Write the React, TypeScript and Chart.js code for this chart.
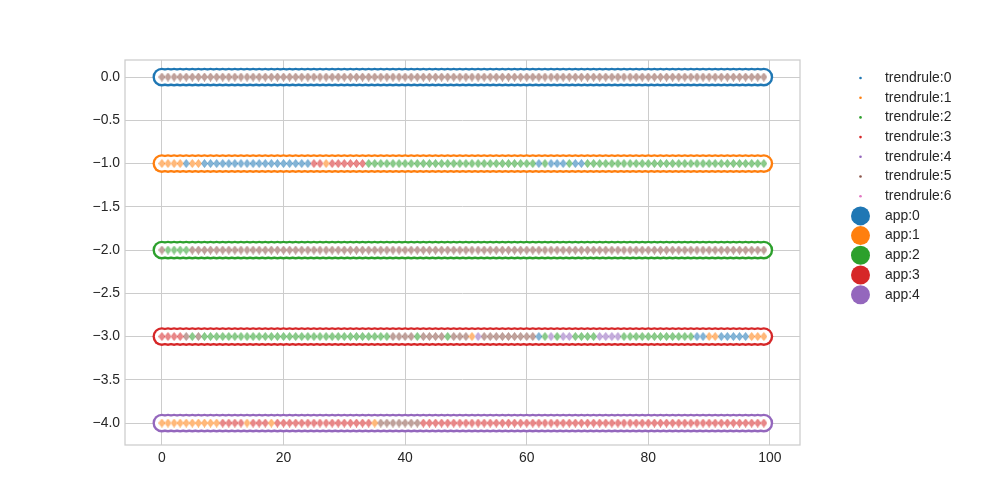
import React, { useEffect, useRef } from "react";
import { Chart, registerables } from "chart.js";

Chart.register(...registerables);

// ---------------- data ----------------
const xValues = [
  0, 1, 2, 3, 4, 5, 6, 7, 8, 9,
  10, 11, 12, 13, 14, 15, 16, 17, 18, 19,
  20, 21, 22, 23, 24, 25, 26, 27, 28, 29,
  30, 31, 32, 33, 34, 35, 36, 37, 38, 39,
  40, 41, 42, 43, 44, 45, 46, 47, 48, 49,
  50, 51, 52, 53, 54, 55, 56, 57, 58, 59,
  60, 61, 62, 63, 64, 65, 66, 67, 68, 69,
  70, 71, 72, 73, 74, 75, 76, 77, 78, 79,
  80, 81, 82, 83, 84, 85, 86, 87, 88, 89,
  90, 91, 92, 93, 94, 95, 96, 97, 98, 99,
];

const appLabels = ["app:0", "app:1", "app:2", "app:3", "app:4"];
const appYValues = [0, -1, -2, -3, -4];
const trendLabels = [
  "trendrule:0", "trendrule:1", "trendrule:2", "trendrule:3",
  "trendrule:4", "trendrule:5", "trendrule:6",
];

// trend rule id at each x, one list per app row
const app0Rules = [
  5, 5, 5, 5, 5, 5, 5, 5, 5, 5,
  5, 5, 5, 5, 5, 5, 5, 5, 5, 5,
  5, 5, 5, 5, 5, 5, 5, 5, 5, 5,
  5, 5, 5, 5, 5, 5, 5, 5, 5, 5,
  5, 5, 5, 5, 5, 5, 5, 5, 5, 5,
  5, 5, 5, 5, 5, 5, 5, 5, 5, 5,
  5, 5, 5, 5, 5, 5, 5, 5, 5, 5,
  5, 5, 5, 5, 5, 5, 5, 5, 5, 5,
  5, 5, 5, 5, 5, 5, 5, 5, 5, 5,
  5, 5, 5, 5, 5, 5, 5, 5, 5, 5,
];
const app1Rules = [
  1, 1, 1, 1, 0, 1, 1, 0, 0, 0,
  0, 0, 0, 0, 0, 0, 0, 0, 0, 0,
  0, 0, 0, 0, 0, 3, 3, 1, 3, 3,
  3, 3, 3, 3, 2, 2, 2, 2, 2, 2,
  2, 2, 2, 2, 2, 2, 2, 2, 2, 2,
  2, 2, 2, 2, 2, 2, 2, 2, 2, 2,
  2, 2, 0, 2, 0, 0, 0, 2, 0, 0,
  2, 2, 2, 2, 2, 2, 2, 2, 2, 2,
  2, 2, 2, 2, 2, 2, 2, 2, 2, 2,
  2, 2, 2, 2, 2, 2, 2, 2, 2, 2,
];
const app2Rules = [
  5, 2, 2, 2, 2, 5, 5, 5, 5, 5,
  5, 5, 5, 5, 5, 5, 5, 5, 5, 5,
  5, 5, 5, 5, 5, 5, 5, 5, 5, 5,
  5, 5, 5, 5, 5, 5, 5, 5, 5, 5,
  5, 5, 5, 5, 5, 5, 5, 5, 5, 5,
  5, 5, 5, 5, 5, 5, 5, 5, 5, 5,
  5, 5, 5, 5, 5, 5, 5, 5, 5, 5,
  5, 5, 5, 5, 5, 5, 5, 5, 5, 5,
  5, 5, 5, 5, 5, 5, 5, 5, 5, 5,
  5, 5, 5, 5, 5, 5, 5, 5, 5, 5,
];
const app3Rules = [
  3, 3, 3, 3, 5, 2, 5, 2, 2, 2,
  2, 2, 2, 2, 2, 2, 2, 2, 2, 2,
  2, 2, 2, 2, 2, 2, 2, 2, 2, 2,
  2, 2, 2, 2, 2, 2, 2, 2, 5, 5,
  5, 5, 2, 5, 5, 5, 5, 2, 5, 5,
  5, 1, 4, 5, 5, 5, 5, 5, 5, 5,
  5, 5, 0, 2, 4, 2, 4, 4, 2, 2,
  2, 2, 4, 4, 4, 4, 2, 2, 2, 2,
  2, 2, 2, 2, 2, 2, 2, 2, 0, 0,
  1, 1, 0, 0, 0, 0, 0, 1, 1, 1,
];
const app4Rules = [
  1, 1, 1, 1, 1, 1, 1, 1, 1, 1,
  3, 3, 3, 3, 1, 3, 3, 3, 1, 3,
  3, 3, 3, 3, 3, 3, 3, 3, 3, 3,
  3, 3, 3, 3, 3, 1, 5, 5, 5, 5,
  5, 5, 5, 3, 3, 3, 3, 3, 3, 3,
  3, 3, 3, 3, 3, 3, 3, 3, 3, 3,
  3, 3, 3, 3, 3, 3, 3, 3, 3, 3,
  3, 3, 3, 3, 3, 3, 3, 3, 3, 3,
  3, 3, 3, 3, 3, 3, 3, 3, 3, 3,
  3, 3, 3, 3, 3, 3, 3, 3, 3, 3,
];
const rulesByApp = [app0Rules, app1Rules, app2Rules, app3Rules, app4Rules];

const xTicks = [0, 20, 40, 60, 80, 100];
const yTicks = [0, -0.5, -1, -1.5, -2, -2.5, -3, -3.5, -4];

// ---------------- styles ----------------
const tab10 = ["#1f77b4", "#ff7f0e", "#2ca02c", "#d62728", "#9467bd", "#8c564b", "#e377c2"];
const FONT = "'Liberation Sans', Arial, 'DejaVu Sans', sans-serif";
const TEXT_COLOR = "#262626";
const GRID_COLOR = "#cccccc";

function hexToRgba(hex: string, a: number) {
  const n = parseInt(hex.slice(1), 16);
  return `rgba(${(n >> 16) & 255},${(n >> 8) & 255},${n & 255},${a})`;
}

function diamondImage(color: string) {
  const w = 7, h = 9;
  const c = document.createElement("canvas");
  c.width = w;
  c.height = h;
  const ctx = c.getContext("2d")!;
  ctx.beginPath();
  ctx.moveTo(w / 2, 0.4);
  ctx.lineTo(w - 0.4, h / 2);
  ctx.lineTo(w / 2, h - 0.4);
  ctx.lineTo(0.4, h / 2);
  ctx.closePath();
  ctx.fillStyle = hexToRgba(color, 0.55);
  ctx.fill();
  ctx.lineWidth = 0.8;
  ctx.strokeStyle = hexToRgba(color, 0.5);
  ctx.stroke();
  return c;
}

function fmtY(v: number) {
  const s = Math.abs(v).toFixed(1);
  return v < 0 ? "\u2212" + s : s;
}

const framePlugin = {
  id: "frameAndLegend",
  afterDatasetsDraw(chart: any) {
    const { ctx, chartArea } = chart;
    ctx.save();
    ctx.strokeStyle = GRID_COLOR;
    ctx.lineWidth = 1.25;
    ctx.strokeRect(chartArea.left, chartArea.top, chartArea.right - chartArea.left, chartArea.bottom - chartArea.top);
    ctx.restore();
  },
  afterDraw(chart: any) {
    const ctx = chart.ctx;
    ctx.save();
    ctx.font = `13.9px ${FONT}`;
    ctx.textBaseline = "middle";
    ctx.textAlign = "left";
    const markerX = 860.5;
    const textX = 885;
    let y = 78;
    const step = 19.7;
    trendLabels.forEach((label, k) => {
      ctx.beginPath();
      ctx.arc(markerX, y, 1.3, 0, Math.PI * 2);
      ctx.fillStyle = tab10[k];
      ctx.fill();
      ctx.fillStyle = TEXT_COLOR;
      ctx.fillText(label, textX, y);
      y += step;
    });
    appLabels.forEach((label, k) => {
      ctx.beginPath();
      ctx.arc(markerX, y, 9.5, 0, Math.PI * 2);
      ctx.fillStyle = tab10[k];
      ctx.fill();
      ctx.fillStyle = TEXT_COLOR;
      ctx.fillText(label, textX, y);
      y += step;
    });
    ctx.restore();
  },
};

export default function App() {
  const canvasRef = useRef<HTMLCanvasElement | null>(null);

  useEffect(() => {
    if (!canvasRef.current) return;

    const trendDatasets = trendLabels.map((label, k) => {
      const pts: { x: number; y: number }[] = [];
      rulesByApp.forEach((rules, r) => {
        rules.forEach((t, i) => {
          if (t === k) pts.push({ x: xValues[i], y: appYValues[r] });
        });
      });
      return {
        label,
        data: pts,
        order: 0,
        backgroundColor: hexToRgba(tab10[k], 0.5),
        borderColor: hexToRgba(tab10[k], 0.5),
        pointStyle: diamondImage(tab10[k]) as any,
        pointRadius: 4,
        pointHoverRadius: 4,
        showLine: false,
      };
    });

    // capsule outline: app-coloured discs underneath white discs
    const appOuter = appLabels.map((label, r) => ({
      label: label + " outline",
      data: xValues.map((x) => ({ x, y: appYValues[r] })),
      order: 2,
      pointStyle: "circle" as const,
      pointRadius: 9.4,
      pointHoverRadius: 9.4,
      borderWidth: 0,
      pointBorderWidth: 0,
      backgroundColor: tab10[r],
      borderColor: tab10[r],
      pointBackgroundColor: tab10[r],
      showLine: false,
    }));
    const appInner = appLabels.map((label, r) => ({
      label,
      data: xValues.map((x) => ({ x, y: appYValues[r] })),
      order: 1,
      pointStyle: "circle" as const,
      pointRadius: 7,
      pointHoverRadius: 7,
      borderWidth: 0,
      pointBorderWidth: 0,
      backgroundColor: "#ffffff",
      borderColor: "#ffffff",
      pointBackgroundColor: "#ffffff",
      showLine: false,
    }));

    const tickFont = { family: FONT, size: 13.9 };

    const chart = new Chart(canvasRef.current, {
      type: "scatter",
      data: { datasets: [...trendDatasets, ...appInner, ...appOuter] as any },
      plugins: [framePlugin as any],
      options: {
        responsive: false,
        animation: false,
        events: [],
        layout: { padding: { left: 0, top: 60, right: 200, bottom: 0 } },
        plugins: {
          legend: { display: false },
          tooltip: { enabled: false },
          colors: { enabled: false },
        } as any,
        scales: {
          x: {
            type: "linear",
            min: -6.07,
            max: 104.95,
            afterBuildTicks: (s: any) => {
              s.ticks = xTicks.map((v) => ({ value: v }));
            },
            afterFit: (s: any) => {
              s.height = 55;
            },
            ticks: {
              font: tickFont,
              color: TEXT_COLOR,
              padding: 5,
              maxRotation: 0,
              autoSkip: false,
              callback: (v: any) => String(v),
            },
            grid: { color: GRID_COLOR, lineWidth: 1, drawTicks: false },
            border: { display: false },
          },
          y: {
            type: "linear",
            min: -4.254,
            max: 0.197,
            afterBuildTicks: (s: any) => {
              s.ticks = yTicks.map((v) => ({ value: v }));
            },
            afterFit: (s: any) => {
              s.width = 125;
            },
            ticks: {
              font: tickFont,
              color: TEXT_COLOR,
              padding: 5,
              autoSkip: false,
              callback: (v: any) => fmtY(Number(v)),
            },
            grid: { color: GRID_COLOR, lineWidth: 1, drawTicks: false },
            border: { display: false },
          },
        },
      },
    });

    return () => chart.destroy();
  }, []);

  return (
    <div style={{ position: "absolute", left: 0, top: 0, width: 1000, height: 500, background: "#fff" }}>
      <canvas ref={canvasRef} width={1000} height={500} />
    </div>
  );
}
